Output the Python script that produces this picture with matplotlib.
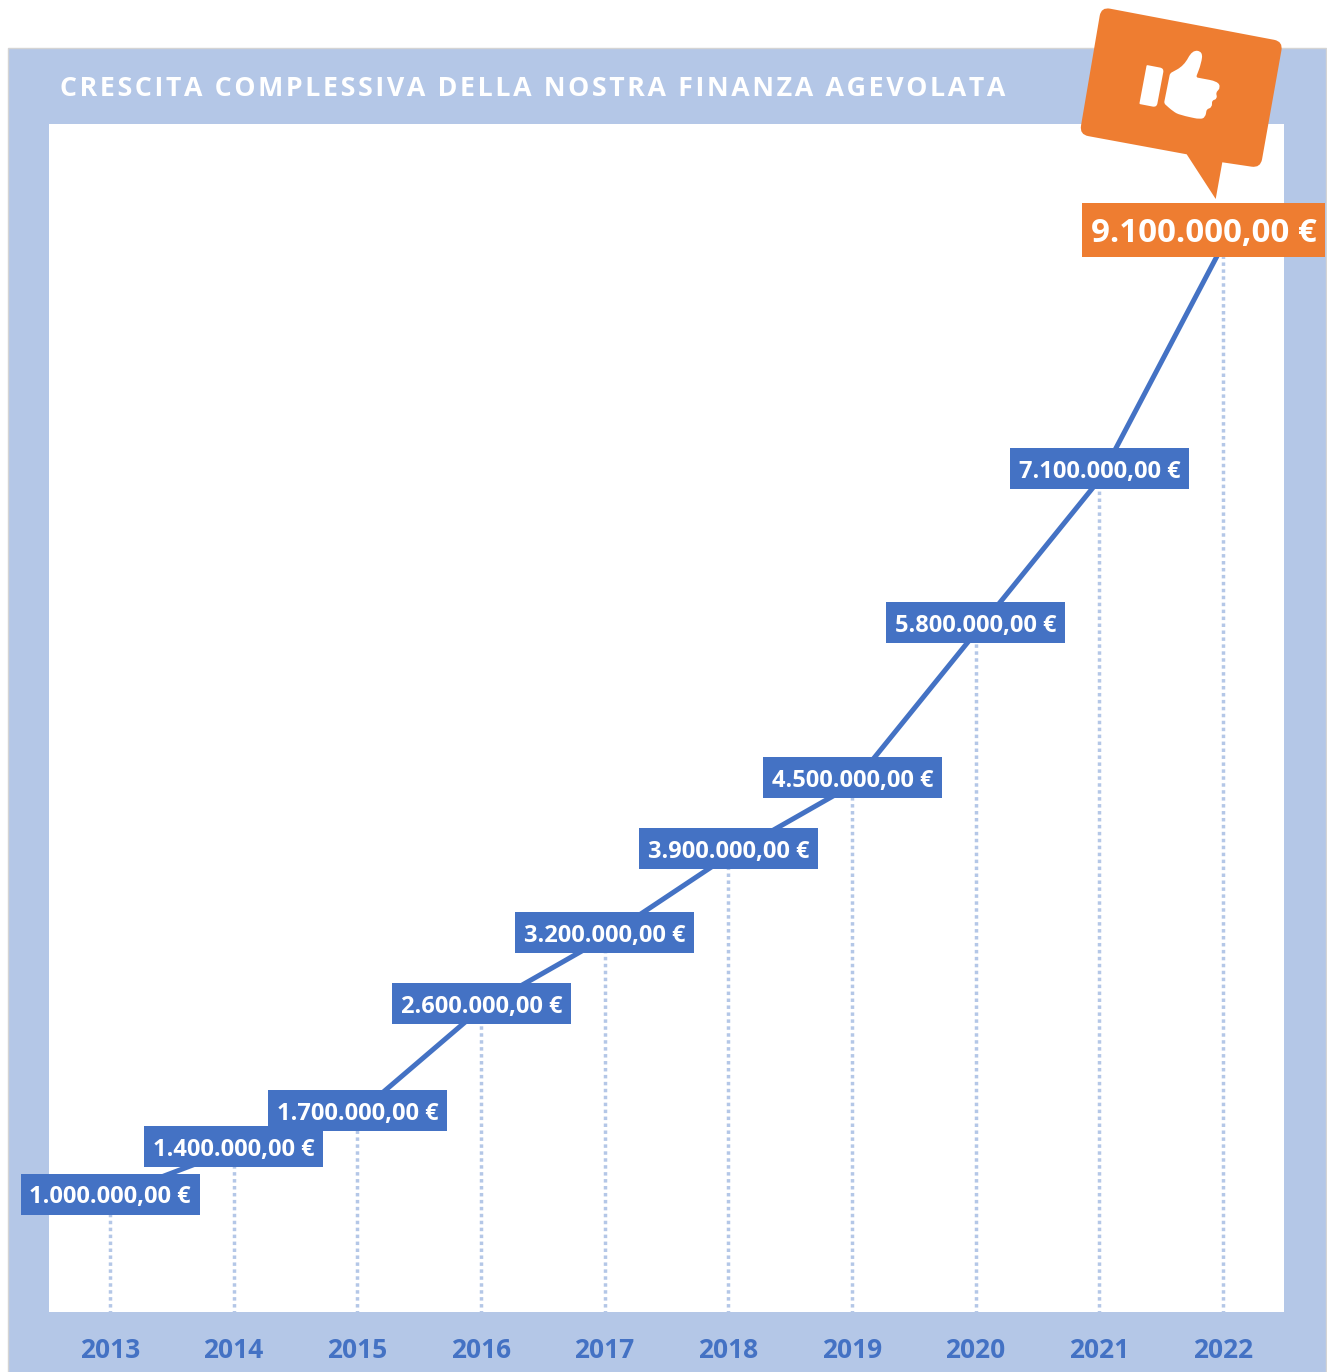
import numpy as np
import matplotlib
matplotlib.use('Agg')
import matplotlib.pyplot as plt
from matplotlib.patches import Rectangle, PathPatch
from matplotlib.path import Path

years = [2013, 2014, 2015, 2016, 2017, 2018, 2019, 2020, 2021, 2022]
values = [1000000, 1400000, 1700000, 2600000, 3200000, 3900000, 4500000, 5800000, 7100000, 9100000]
title = 'CRESCITA COMPLESSIVA DELLA NOSTRA FINANZA AGEVOLATA'

BLUE = '#4472C4'
LIGHT = '#B4C7E7'
ORANGE = '#EE7D31'
W, H = 1327, 1372

plt.rcParams['font.family'] = ['Open Sans', 'DejaVu Sans']


def label(v):
    s = f'{v:,.2f}'.replace(',', 'X').replace('.', ',').replace('X', '.')
    return s + ' €'


def rounded(points, r):
    # closed polygon with rounded corners, r = one radius per corner
    pts = np.array(points, float)
    n = len(pts)
    verts, codes = [], []
    for i in range(n):
        p, prev, nxt = pts[i], pts[i - 1], pts[(i + 1) % n]
        a = p + (prev - p) / np.linalg.norm(prev - p) * min(r[i], np.linalg.norm(prev - p) / 2)
        b = p + (nxt - p) / np.linalg.norm(nxt - p) * min(r[i], np.linalg.norm(nxt - p) / 2)
        verts.append(a)
        codes.append(Path.MOVETO if i == 0 else Path.LINETO)
        verts += [p, b]
        codes += [Path.CURVE3, Path.CURVE3]
    verts.append(verts[0])
    codes.append(Path.CLOSEPOLY)
    return Path(verts, codes)


def zoomed(points):
    return [(x / 3 + 1060, y / 3) for x, y in points]


fig = plt.figure(figsize=(W / 100, H / 100), dpi=100, facecolor='white')

# frame behind the chart
bg = fig.add_axes([0, 0, 1, 1], zorder=0)
bg.set_xlim(0, W)
bg.set_ylim(H, 0)
bg.axis('off')
bg.add_patch(Rectangle((8, 48), 1318, 1330, facecolor=LIGHT, edgecolor='#D4D4D4', lw=1))
# hair spaces give the tracking of the original title
bg.text(60.5, 89, '\u200a'.join(title), color='white', fontsize=19.3, fontweight='bold',
        va='center', ha='left')

# chart
left, right, top, bottom = 49, 1284, 124, 1312
year_px = 123.67
val_px = 117.5 / 1000000
ax = fig.add_axes([left / W, 1 - bottom / H, (right - left) / W, (bottom - top) / H], zorder=1)
ax.set_xlim(2013 - 61 / year_px, 2022 + 61 / year_px)
ax.set_ylim(2 / val_px, (1314 - top) / val_px)
for s in ax.spines.values():
    s.set_visible(False)
ax.set_yticks([])
ax.set_xticks(years)
ax.set_xticklabels(years, color=BLUE, fontsize=19, fontweight='bold')
ax.tick_params(axis='x', length=0, pad=18)

ax.vlines(years, 0, values, color=LIGHT, lw=2.5, linestyles=(0, (1, 1)), zorder=1)
ax.plot(years, values, color=BLUE, lw=3.6, zorder=2, solid_capstyle='butt')


def tag(v, cx, w, h, color, size, shift):
    # labels sit a little above their point, more so higher up the chart
    cy = v + (1 + 1.5 * v / 1000000) / val_px
    ax.add_patch(Rectangle((cx - w / 2 / year_px, cy - h / 2 / val_px), w / year_px, h / val_px,
                           facecolor=color, edgecolor='none', zorder=3, clip_on=False))
    ax.annotate(label(v), (cx, cy), xytext=(0, shift), textcoords='offset points', color='white',
                fontsize=size, fontweight='bold', ha='center', va='center', zorder=4)


for yr, v in zip(years[:-1], values[:-1]):
    tag(v, yr + 0.3 / year_px, 179, 41, BLUE, 17, -2.5)

# last value is bigger and orange
tag(values[-1], years[-1] - 19.5 / year_px, 243, 54, ORANGE, 23.8, -2.8)

# speech bubble with thumb on top
over = fig.add_axes([0, 0, 1, 1], zorder=2)
over.set_xlim(0, W)
over.set_ylim(H, 0)
over.axis('off')
over.patch.set_alpha(0)

bubble = [(1101.2, 7), (1283, 41.5), (1260.5, 168), (1222.3, 162.3), (1215.7, 199),
          (1186.7, 154.3), (1079.5, 134.5)]
over.add_patch(PathPatch(rounded(bubble, [9, 9, 9, 0.1, 0.1, 0.1, 9]), facecolor=ORANGE, edgecolor='none'))

cuff = zoomed([(260, 195), (312, 205), (290, 322), (238, 312)])
over.add_patch(PathPatch(rounded(cuff, [1, 4, 4, 1]), facecolor='white', edgecolor='none'))
hand = zoomed([(330, 220), (372, 197), (397, 150), (428, 155), (424, 190), (408, 232), (472, 244),
               (482, 262), (468, 278), (472, 296), (456, 302), (456, 322), (440, 328), (436, 352),
               (420, 358), (360, 345), (340, 335), (312, 310)])
over.add_patch(PathPatch(rounded(hand, [2, 15, 10, 12, 10, 2, 8, 8, 2, 8, 2, 8, 2, 8, 6, 10, 10, 2]),
                         facecolor='white', edgecolor='none'))

fig.savefig('out.png', dpi=100, facecolor='white')
